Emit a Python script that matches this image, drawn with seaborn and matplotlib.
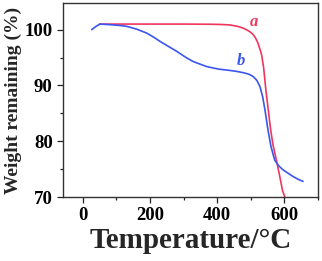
import numpy as np
import pandas as pd
import matplotlib
matplotlib.use("Agg")
import matplotlib.pyplot as plt
import seaborn as sns
from matplotlib.ticker import MultipleLocator

# Curve a (red)
temp_a = [50, 100, 200, 300, 380, 410, 437, 460, 476, 490, 500, 507, 514, 521, 527, 532, 538, 545, 552, 559, 566, 576, 585, 594, 601]
weight_a = [101.0, 101.0, 101.0, 101.0, 100.97, 100.93, 100.85, 100.6, 100.3, 99.9, 99.5, 99.1, 98.5, 97.6, 96.5, 95.5, 93.2, 89.0, 85.5, 82.0, 79.3, 76.6, 74.0, 71.2, 70.0]

# Curve b (blue)
temp_b = [27, 40, 52, 80, 110, 131, 160, 190, 210, 230, 255, 280, 305, 328, 350, 368, 390, 408, 430, 455, 477, 495, 507, 518, 527, 535, 542, 551, 560, 571, 583, 595, 610, 625, 640, 655]
weight_b = [100.0, 100.6, 101.0, 100.9, 100.75, 100.6, 100.1, 99.4, 98.7, 97.9, 97.0, 96.1, 95.1, 94.3, 93.8, 93.4, 93.1, 92.9, 92.75, 92.55, 92.3, 92.0, 91.6, 90.9, 89.8, 88.0, 85.6, 82.0, 79.0, 76.6, 75.6, 74.9, 74.3, 73.7, 73.2, 72.8]

labels = ["a", "b"]
colors = ["#f0365e", "#3a56ee"]

df = pd.concat([
    pd.DataFrame({"T": temp_a, "W": weight_a, "s": "a"}),
    pd.DataFrame({"T": temp_b, "W": weight_b, "s": "b"}),
])

sns.set_style("ticks")
plt.rcParams["font.family"] = ["Liberation Serif", "DejaVu Serif"]
plt.rcParams["font.weight"] = "bold"

fig = plt.figure(figsize=(3.22, 2.61), dpi=100)
ax = fig.add_axes([0.196, 0.245, 0.792, 0.744])

sns.lineplot(data=df, x="T", y="W", hue="s", palette=dict(zip(labels, colors)),
             ax=ax, legend=False, linewidth=1.2, sort=False)

ax.set_xlim(-58, 700)
ax.set_ylim(70, 104.8)
ax.xaxis.set_major_locator(MultipleLocator(200))
ax.xaxis.set_minor_locator(MultipleLocator(100))
ax.yaxis.set_major_locator(MultipleLocator(10))
ax.yaxis.set_minor_locator(MultipleLocator(5))
ax.tick_params(which="major", length=4, width=0.9, labelsize=13.5, direction="out", colors="#222222")
ax.tick_params(which="minor", length=2.5, width=0.9, direction="out", colors="#222222")
for lbl in ax.get_xticklabels() + ax.get_yticklabels():
    lbl.set_fontweight("bold")
    lbl.set_color("black")
for sp in ax.spines.values():
    sp.set_visible(True)
    sp.set_linewidth(1.0)
    sp.set_color("#333333")

ax.set_xlabel("Temperature/°C", fontsize=21, fontweight="bold", labelpad=2)
ax.set_ylabel("Weight remaining (%)", fontsize=14, fontweight="bold", labelpad=2)

ax.text(510, 101.4, "a", color=colors[0], fontsize=12, fontstyle="italic", fontweight="bold", ha="center", va="center")
ax.text(470, 94.3, "b", color=colors[1], fontsize=12, fontstyle="italic", fontweight="bold", ha="center", va="center")

fig.savefig("out.png", dpi=100)
